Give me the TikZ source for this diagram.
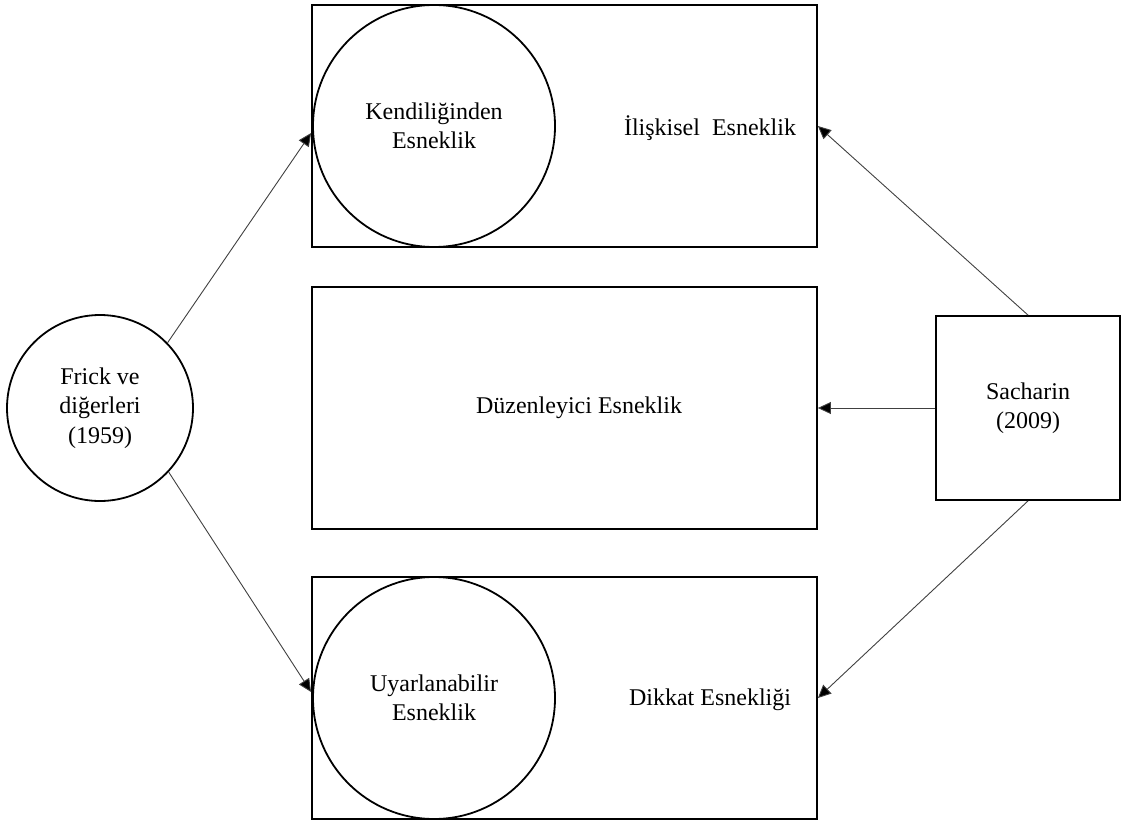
\documentclass[tikz,border=0pt]{standalone}
\usepackage{fontspec}
\setmainfont{Liberation Serif}
\usetikzlibrary{arrows.meta}
\begin{document}
\begin{tikzpicture}[x=1pt,y=-1pt,
  box/.style={draw,line width=1.8pt,minimum width=505pt,minimum height=242pt,inner sep=0pt},
  circ/.style={draw,circle,line width=1.8pt,inner sep=0pt,align=center,font=\fontsize{24}{29.5}\selectfont},
  lbl/.style={font=\fontsize{24}{29.5}\selectfont,align=center,inner sep=0pt},
  conn/.style={line width=0.9pt,draw=black!75,-{Triangle[length=13pt,width=12pt,fill=black]}}]
\useasboundingbox (0,0) rectangle (1121,824);
% boxes
\node[box] (T) at (564.5,126) {};
\node[box] (M) at (564.5,408) {};
\node[box] (B) at (564.5,698) {};
\node[draw,line width=1.8pt,minimum width=184pt,minimum height=184pt,inner sep=0pt,align=center,font=\fontsize{24}{29.5}\selectfont] (S) at (1028,408) {Sacharin\\(2009)};
% circles
\node[circ,minimum size=242pt] (TC) at (434,126) {Kendiliğinden\\Esneklik};
\node[circ,minimum size=242pt] (BC) at (434,698) {Uyarlanabilir\\Esneklik};
\node[circ,minimum size=186pt] (L) at (100,408) {Frick ve\\diğerleri\\(1959)};
% labels
\node[lbl] (TL) at (710,128) {İlişkisel\ \ Esneklik};
\node[lbl] (ML) at (579,408) {Düzenleyici Esneklik};
\node[lbl] (BL) at (710,700) {Dikkat Esnekliği};
% connectors
\draw[conn] (L.44.6) -- ([yshift=-7pt]T.west);
\draw[conn] (L.-43.7) -- ([yshift=6pt]B.west);
\draw[conn] (S.north) -- (T.east);
\draw[conn] (S.west) -- (M.east);
\draw[conn] (S.south) -- (B.east);
\end{tikzpicture}
\end{document}
